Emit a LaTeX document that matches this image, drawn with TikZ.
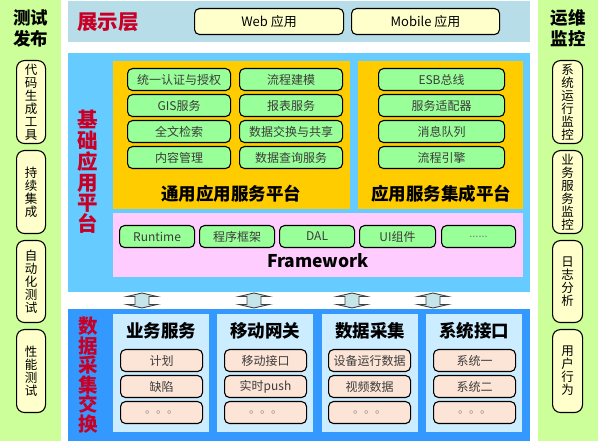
\documentclass[tikz,border=0pt]{standalone}
\usepackage{fontspec}
\setmainfont{Noto Sans CJK SC}
\definecolor{sidegreen}{RGB}{204,255,153}
\definecolor{showblue}{RGB}{183,221,232}
\definecolor{platblue}{RGB}{102,204,255}
\definecolor{datablue}{RGB}{51,153,255}
\definecolor{orangep}{RGB}{255,204,0}
\definecolor{pinkp}{RGB}{255,204,255}
\definecolor{boxgreen}{RGB}{153,255,153}
\definecolor{lightyellow}{RGB}{255,255,204}
\definecolor{subblue}{RGB}{204,236,255}
\definecolor{peach}{RGB}{252,228,214}
\definecolor{crimson}{RGB}{200,0,40}
\definecolor{arrowfill}{RGB}{197,229,232}
\definecolor{txtgray}{RGB}{60,60,60}
\newcommand\bx[6][]{\node[#1,anchor=north west,minimum width=#4pt,minimum height=#5pt] (#2) at (#3) {#6};}
\begin{document}
\begin{tikzpicture}[x=1pt,y=-1pt,
  panel/.style={inner sep=0pt,outer sep=0pt,draw=none},
  rb/.style={draw=black,line width=1.1pt,rounded corners=5pt,inner sep=0pt,font=\fontsize{12}{14}\selectfont,text=txtgray},
  gbox/.style={rb,fill=boxgreen},
  ybox/.style={rb,fill=lightyellow,text=black},
  pbox/.style={rb,fill=peach},
  vbox/.style={ybox,rounded corners=8pt,align=center,font=\fontsize{12.5}{13}\selectfont},
  ttl/.style={font=\bfseries\fontsize{17.5}{21}\selectfont,text=black,align=center},
  redv/.style={font=\bfseries\fontsize{20.5}{20.8}\selectfont,text=crimson,align=center},
  dots/.style={font=\fontsize{11}{12}\selectfont,text=gray},
  arrowsty/.style={draw=black!75,line width=0.9pt,fill=arrowfill},
  updown/.pic={\draw[arrowsty] (0,-7.5) -- (15,-4) -- (7,-4) -- (7,4) -- (15,4) -- (0,7.5) -- (-15,4) -- (-7,4) -- (-7,-4) -- (-15,-4) -- cycle;}
]
\useasboundingbox (0,0) rectangle (598,446);
% side panels
\bx[panel,fill=sidegreen]{leftp}{0,0}{61}{441}{}
\bx[panel,fill=sidegreen]{rightp}{538,0}{60}{441}{}
\node[ttl] (ltitle) at (30.5,28.5) {测试\\发布};
\node[ttl] (rtitle) at (568,28.5) {运维\\监控};
\bx[vbox]{l1}{16,60}{29}{83}{代\\码\\生\\成\\工\\具}
\bx[vbox]{l2}{16,150}{29}{83}{持\\续\\集\\成}
\bx[vbox]{l3}{16,240}{29}{82}{自\\动\\化\\测\\试}
\bx[vbox]{l4}{16,329}{29}{83}{性\\能\\测\\试}
\bx[vbox]{r1}{552,60}{30}{83}{系\\统\\运\\行\\监\\控}
\bx[vbox]{r2}{552,150}{30}{83}{业\\务\\服\\务\\监\\控}
\bx[vbox]{r3}{552,240}{30}{82}{日\\志\\分\\析}
\bx[vbox]{r4}{552,329}{30}{83}{用\\户\\行\\为}
% presentation layer
\bx[panel,fill=showblue]{showp}{68,1}{462}{41}{}
\node[redv] (showt) at (108,22.5) {展示层};
\bx[ybox,font=\fontsize{13}{15}\selectfont]{web}{194,8}{149}{26}{Web 应用}
\bx[ybox,font=\fontsize{13}{15}\selectfont]{mobile}{351,8}{148}{26}{Mobile 应用}
% platform
\bx[panel,fill=platblue]{platp}{68,53}{462}{239}{}
\node[redv] (platt) at (88,172) {基\\础\\应\\用\\平\\台};
\bx[panel,fill=orangep]{orl}{113,61}{237}{148}{}
\bx[panel,fill=orangep]{orr}{358,61}{165}{148}{}
\bx[gbox]{g11}{127,68}{103}{22}{统一认证与授权}
\bx[gbox]{g12}{239,68}{103}{22}{流程建模}
\bx[gbox]{g21}{127,94}{103}{22}{GIS服务}
\bx[gbox]{g22}{239,94}{103}{22}{报表服务}
\bx[gbox]{g31}{127,120}{103}{22}{全文检索}
\bx[gbox]{g32}{239,120}{103}{22}{数据交换与共享}
\bx[gbox]{g41}{127,146}{103}{22}{内容管理}
\bx[gbox]{g42}{239,146}{103}{22}{数据查询服务}
\node[ttl] (orlt) at (231,193.5) {通用应用服务平台};
\bx[gbox]{e1}{378,68}{126}{22}{ESB总线}
\bx[gbox]{e2}{378,94}{126}{22}{服务适配器}
\bx[gbox]{e3}{378,120}{126}{22}{消息队列}
\bx[gbox]{e4}{378,146}{126}{22}{流程引擎}
\node[ttl] (orrt) at (441,193.5) {应用服务集成平台};
\bx[panel,fill=pinkp]{fw}{113,213}{410}{64}{}
\bx[gbox]{f1}{119,225}{75}{22}{Runtime}
\bx[gbox]{f2}{199,225}{75}{22}{程序框架}
\bx[gbox]{f3}{279,225}{75}{22}{DAL}
\bx[gbox]{f4}{359,225}{76}{22}{UI组件}
\bx[gbox,dots]{f5}{441,225}{74}{22}{......}
\node[ttl] (fwt) at (318,261) {Framework};
% arrows
\pic (a1) at (142,300.5) {updown};
\pic (a2) at (254,300.5) {updown};
\pic (a3) at (352,300.5) {updown};
\pic (a4) at (433,300.5) {updown};
% data layer
\bx[panel,fill=datablue]{datap}{68,309}{462}{132}{}
\node[redv,font=\bfseries\fontsize{19.5}{19.5}\selectfont] (datat) at (88,375) {数\\据\\采\\集\\交\\换};
\bx[panel,fill=subblue]{s1}{113,314}{96}{118}{}
\bx[panel,fill=subblue]{s2}{217,314}{96}{118}{}
\bx[panel,fill=subblue]{s3}{322,314}{96}{118}{}
\bx[panel,fill=subblue]{s4}{426,314}{96}{118}{}
\node[ttl] (s1t) at (161,331) {业务服务};
\node[ttl] (s2t) at (265,331) {移动网关};
\node[ttl] (s3t) at (370,331) {数据采集};
\node[ttl] (s4t) at (474,331) {系统接口};
\bx[pbox]{p11}{120,349}{82}{22}{计划}
\bx[pbox]{p12}{120,375}{82}{22}{缺陷}
\bx[pbox,dots]{p13}{120,401}{82}{22}{。。。}
\bx[pbox]{p21}{224,349}{82}{22}{移动接口}
\bx[pbox]{p22}{224,375}{82}{22}{实时push}
\bx[pbox,dots]{p23}{224,401}{82}{22}{。。。}
\bx[pbox]{p31}{328,349}{82}{22}{设备运行数据}
\bx[pbox]{p32}{328,375}{82}{22}{视频数据}
\bx[pbox,dots]{p33}{328,401}{82}{22}{。。。}
\bx[pbox]{p41}{433,349}{82}{22}{系统一}
\bx[pbox]{p42}{433,375}{82}{22}{系统二}
\bx[pbox,dots]{p43}{433,401}{82}{22}{。。。}
\end{tikzpicture}
\end{document}
